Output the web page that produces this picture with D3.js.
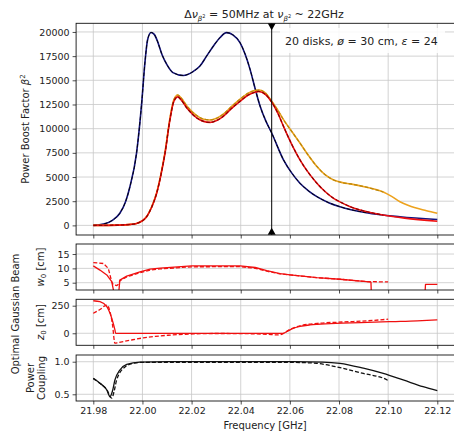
<!DOCTYPE html>
<html>
<head>
<meta charset="utf-8">
<script src="https://cdn.jsdelivr.net/npm/d3@7"></script>
<style>
  body { margin: 0; background: #fff; }
  text { font-family: "DejaVu Sans", sans-serif; fill: #222; }
</style>
</head>
<body>
<div id="chart"></div>
<script>
// chart size
var w = 454;
var h = 432;

// ---- data: [frequency GHz, value] ----
var boostNavy = [[21.98,0],[21.9841,130],[21.9876,500],[21.9908,1250],[21.9932,2500],[21.9949,4000],
  [21.9976,7480],[21.9997,12670],[22.0010,16800],[22.0021,19200],[22.0035,19950],[22.0048,19750],
  [22.0061,19050],[22.0079,17700],[22.0099,16650],[22.0124,15800],[22.0166,15500],[22.0206,15900],
  [22.0234,16470],[22.0261,17500],[22.0289,18550],[22.0317,19450],[22.0342,19930],[22.0368,19700],
  [22.0397,18900],[22.0418,17700],[22.0438,16130],[22.0458,14200],[22.0479,12320],[22.0502,10800],
  [22.0526,9550],[22.0574,6780],[22.0608,5400],[22.0641,4360],[22.0677,3550],[22.0710,2970],
  [22.0758,2350],[22.0804,1930],[22.0912,1310],[22.1048,890],[22.12,600]];
var boostRed = [[21.98,0],[21.9901,30],[21.9952,100],[21.9976,200],[22.0017,900],[22.0038,1900],
  [22.0058,3320],[22.0076,5300],[22.0092,7480],[22.0112,10930],[22.0128,12830],[22.0144,13290],
  [22.0155,13050],[22.0185,12000],[22.0221,11110],[22.0246,10780],[22.0275,10650],[22.0302,10850],
  [22.0329,11280],[22.0363,12100],[22.0397,12830],[22.0429,13450],[22.0458,13770],[22.0474,13850],
  [22.0500,13550],[22.0526,12750],[22.0551,11600],[22.0574,10240],[22.0611,8200],[22.0641,6780],
  [22.0677,5400],[22.0710,4360],[22.0743,3500],[22.0778,2800],[22.0814,2300],[22.0846,1930],
  [22.0915,1400],[22.0980,1070],[22.1067,750],[22.12,430]];
var boostOrange = [[21.98,0],[21.9901,30],[21.9952,100],[21.9976,200],[22.0017,900],[22.0038,1950],
  [22.0058,3400],[22.0076,5400],[22.0092,7600],[22.0112,11100],[22.0128,13000],[22.0144,13480],
  [22.0155,13250],[22.0185,12200],[22.0221,11350],[22.0246,11000],[22.0275,10900],[22.0302,11080],
  [22.0329,11500],[22.0363,12300],[22.0397,13050],[22.0429,13650],[22.0458,13950],[22.0476,14000],
  [22.0500,13700],[22.0526,12830],[22.0551,11900],[22.0574,10930],[22.0608,9700],[22.0641,8510],
  [22.0675,7250],[22.0710,6090],[22.0743,5250],[22.0778,4700],[22.0814,4420],[22.0846,4290],
  [22.0912,3950],[22.0980,3450],[22.1014,3000],[22.1048,2450],[22.1083,2050],[22.1156,1520],[22.12,1250]];

var w0Solid = [[21.98,10.85],[21.9827,9.4],[21.9855,7.7],[21.9875,5.35],[21.9883,2.0],[21.9885,0],
  [21.9902,0],[21.9904,2.0],[21.9908,5.9],[21.9936,7.3],[21.9990,8.8],[22.0031,9.7],[22.0072,10.1],
  [22.0200,10.85],[22.0397,10.85],[22.0459,10.3],[22.0506,9.2],[22.0560,8.2],[22.0601,7.7],
  [22.0710,6.75],[22.0804,6.2],[22.0912,5.35],[22.0930,5.2],[22.0932,0],[22.1149,0],[22.1152,4.4],[22.12,4.4]];
var w0Dashed = [[21.98,12.0],[21.9841,11.7],[21.9861,10.0],[21.9875,5.35],[21.9881,4.3],[21.9896,4.0],
  [21.9904,4.6],[21.9908,5.7],[21.9936,7.0],[21.9990,8.5],[22.0031,9.4],[22.0072,9.8],[22.0200,10.55],
  [22.0397,10.6],[22.0459,10.0],[22.0506,9.0],[22.0560,8.1],[22.0601,7.7],[22.0710,6.75],[22.0804,6.2],
  [22.0912,5.4],[22.10,5.25]];

var z0Solid = [[21.98,295],[21.9827,286],[21.9855,241],[21.9875,136],[21.9888,30],[21.9891,0],
  [22.0571,0],[22.0591,20],[22.0611,42],[22.0641,62],[22.0682,76],[22.0712,82],[22.0814,92],[22.0915,99],
  [22.1017,106],[22.1118,113],[22.12,122]];
var z0Dashed = [[21.98,181],[21.9827,215],[21.9855,256],[21.9868,196],[21.9878,80],[21.9888,-90],
  [21.9901,-84],[21.9952,-62],[22.0003,-42],[22.0053,-28],[22.0104,-18],[22.0206,-6],[22.0307,-2],
  [22.0408,-3],[22.0510,-10],[22.0550,-15],[22.0571,-5],[22.0601,36],[22.0641,68],[22.0712,90],
  [22.0814,102],[22.0915,113],[22.10,128]];

var couplingSolid = [[21.98,0.745],[21.9827,0.67],[21.9855,0.566],[21.9868,0.463],[21.9878,0.55],
  [21.9888,0.72],[21.9908,0.873],[21.9936,0.96],[21.9990,0.995],[22.0104,1.0],[22.0611,1.0],[22.0733,0.995],
  [22.0804,0.975],[22.0899,0.9],[22.0980,0.82],[22.1061,0.72],[22.1142,0.617],[22.12,0.555]];
var couplingDashed = [[21.98,0.74],[21.9827,0.67],[21.9855,0.57],[21.9875,0.44],[21.9885,0.55],
  [21.9895,0.72],[21.9929,0.92],[21.9962,0.975],[22.0003,0.99],[22.0611,0.99],[22.0662,0.985],[22.0710,0.975],
  [22.0791,0.92],[22.0899,0.82],[22.0996,0.72],[22.10,0.70]];

var markerFreq = 22.0526;
var xTicks = [21.98, 22.00, 22.02, 22.04, 22.06, 22.08, 22.10, 22.12];
var boostTicks = [0, 2500, 5000, 7500, 10000, 12500, 15000, 17500, 20000];
var w0Ticks = [5, 10, 15];
var z0Ticks = [0, 250];
var couplingTicks = [0.5, 1.0];

// ---- scales ----
var xScale = d3.scaleLinear().domain([21.973, 22.127]).range([76.1, 454.5]);

var panels = [
  {id: "boost", top: 23.3, bottom: 235, domain: [-995, 20895], ticks: boostTicks, fmt: d3.format("d")},
  {id: "w0", top: 244, bottom: 290, domain: [2.45, 18.5], ticks: w0Ticks, fmt: d3.format("d")},
  {id: "z0", top: 299.3, bottom: 345.3, domain: [-109, 308], ticks: z0Ticks, fmt: d3.format("d")},
  {id: "coup", top: 355, bottom: 401, domain: [0.397, 1.103], ticks: couplingTicks, fmt: d3.format(".1f")}
];

var svg = d3.select("#chart").append("svg")
  .attr("width", w).attr("height", h);

var x0 = xScale.range()[0], x1 = xScale.range()[1];

panels.forEach(function(p, i) {
  p.y = d3.scaleLinear().domain(p.domain).range([p.bottom, p.top]);
  var g = svg.append("g");

  svg.append("clipPath").attr("id", "clip-" + p.id)
    .append("rect").attr("x", x0).attr("y", p.top)
    .attr("width", x1 - x0).attr("height", p.bottom - p.top);

  // grid
  g.selectAll(".vg").data(xTicks).enter().append("line")
    .attr("x1", function(d){ return xScale(d); }).attr("x2", function(d){ return xScale(d); })
    .attr("y1", p.top).attr("y2", p.bottom)
    .attr("stroke", "#c8c8c8").attr("stroke-width", 0.8);
  g.selectAll(".hg").data(p.ticks).enter().append("line")
    .attr("x1", x0).attr("x2", x1)
    .attr("y1", function(d){ return p.y(d); }).attr("y2", function(d){ return p.y(d); })
    .attr("stroke", "#c8c8c8").attr("stroke-width", 0.8);

  // y axis
  var yAxis = d3.axisLeft(p.y).tickValues(p.ticks).tickFormat(p.fmt).tickSize(3.5).tickPadding(3);
  var ya = svg.append("g").attr("transform", "translate(" + x0 + ",0)").call(yAxis);
  ya.select(".domain").remove();
  ya.selectAll("text").style("font-size", "9.5px").attr("fill", "#222");
  ya.selectAll("line").attr("stroke", "#222").attr("stroke-width", 0.8);

  // x axis
  var xAxis = d3.axisBottom(xScale).tickValues(xTicks).tickFormat(d3.format(".2f")).tickSize(3.5).tickPadding(3);
  var xa = svg.append("g").attr("transform", "translate(0," + p.bottom + ")").call(xAxis);
  xa.select(".domain").remove();
  xa.selectAll("line").attr("stroke", "#222").attr("stroke-width", 0.8);
  if (i < panels.length - 1) {
    xa.selectAll("text").remove();
  } else {
    xa.selectAll("text").style("font-size", "9.5px").attr("fill", "#222");
  }
});

function drawLine(p, data, color, width, dash, curve) {
  var line = d3.line()
    .x(function(d){ return xScale(d[0]); })
    .y(function(d){ return p.y(d[1]); })
    .curve(curve || d3.curveLinear);
  var path = svg.append("path")
    .datum(data)
    .attr("clip-path", "url(#clip-" + p.id + ")")
    .attr("d", line)
    .attr("fill", "none")
    .attr("stroke", color)
    .attr("stroke-width", width)
    .attr("stroke-linejoin", "round");
  if (dash) path.attr("stroke-dasharray", dash);
  return path;
}

var smooth = d3.curveMonotoneX;
var pb = panels[0];
var upTo = function(arr, f) { return arr.filter(function(d){ return d[0] <= f + 1e-9; }); };

drawLine(pb, boostNavy, "#12127e", 1.6, null, smooth);
drawLine(pb, upTo(boostNavy, 22.10), "#000", 0.9, "3.5,2", smooth);
drawLine(pb, boostOrange, "#eda21e", 1.6, null, smooth);
drawLine(pb, upTo(boostOrange, 22.10), "#b8860b", 1.2, "3.5,2", smooth);
drawLine(pb, boostRed, "#f01010", 1.6, null, smooth);
drawLine(pb, upTo(boostRed, 22.10), "#8b0000", 1.2, "3.5,2", smooth);

drawLine(panels[1], w0Solid, "#f01010", 1.3);
drawLine(panels[1], w0Dashed, "#f01010", 1.3, "4,2");
drawLine(panels[2], z0Solid, "#f01010", 1.3, null, smooth);
drawLine(panels[2], z0Dashed, "#f01010", 1.3, "4,2", smooth);
drawLine(panels[3], couplingSolid, "#111", 1.3, null, smooth);
drawLine(panels[3], couplingDashed, "#111", 1.3, "4,2", smooth);

// vertical marker line with triangles
var mx = xScale(markerFreq);
svg.append("line")
  .attr("x1", mx).attr("x2", mx).attr("y1", pb.top).attr("y2", pb.bottom)
  .attr("stroke", "#000").attr("stroke-width", 1);
var tri = d3.symbol().type(d3.symbolTriangle).size(28);
svg.append("path").attr("d", tri())
  .attr("transform", "translate(" + mx + "," + (pb.top + 2.3) + ") rotate(180)").attr("fill", "#000");
svg.append("path").attr("d", tri())
  .attr("transform", "translate(" + mx + "," + (pb.bottom - 2.6) + ")").attr("fill", "#000");

// annotation box
svg.append("rect").attr("x", 280).attr("y", 28).attr("width", 165).attr("height", 25)
  .attr("fill", "#fff").attr("fill-opacity", 0.85);
var note = svg.append("text").attr("x", 285).attr("y", 44.5).style("font-size", "11px");
note.append("tspan").text("20 disks, ");
note.append("tspan").style("font-style", "italic").text("ø");
note.append("tspan").text(" = 30 cm, ");
note.append("tspan").style("font-style", "italic").text("ε");
note.append("tspan").text(" = 24");

// frames (drawn last so they sit above lines)
panels.forEach(function(p) {
  svg.append("rect").attr("x", x0).attr("y", p.top)
    .attr("width", x1 - x0).attr("height", p.bottom - p.top)
    .attr("fill", "none").attr("stroke", "#111").attr("stroke-width", 0.9);
});

// title
var title = svg.append("text").attr("x", 264).attr("y", 18).attr("text-anchor", "middle")
  .style("font-size", "11px");
title.append("tspan").text("Δ");
title.append("tspan").style("font-style", "italic").text("ν");
title.append("tspan").attr("dy", 2.5).style("font-size", "7px").style("font-style", "italic").text("β");
title.append("tspan").attr("dy", -3).style("font-size", "5px").text("2");
title.append("tspan").attr("dy", 0.5).text(" = 50MHz at ");
title.append("tspan").style("font-style", "italic").text("ν");
title.append("tspan").attr("dy", 2.5).style("font-size", "7px").style("font-style", "italic").text("β");
title.append("tspan").attr("dy", -3).style("font-size", "5px").text("2");
title.append("tspan").attr("dy", 0.5).text(" ~ 22GHz");

// axis labels
function yLabel(xp, yp) {
  return svg.append("text").attr("text-anchor", "middle")
    .attr("transform", "translate(" + xp + "," + yp + ") rotate(-90)")
    .style("font-size", "10px");
}
var lb = yLabel(29, 129);
lb.append("tspan").text("Power Boost Factor ");
lb.append("tspan").style("font-style", "italic").text("β");
lb.append("tspan").attr("dy", -4).style("font-size", "7px").text("2");

var lw = yLabel(44, 267);
lw.append("tspan").style("font-style", "italic").text("w");
lw.append("tspan").attr("dy", 2).style("font-size", "7px").text("0");
lw.append("tspan").attr("dy", -2).text(" [cm]");

var lz = yLabel(44, 322);
lz.append("tspan").style("font-style", "italic").text("z");
lz.append("tspan").attr("dy", 2).style("font-size", "7px").text("0");
lz.append("tspan").attr("dy", -2).text(" [cm]");

yLabel(34, 378).text("Power");
yLabel(45, 378).text("Coupling");
yLabel(19, 314).text("Optimal Gaussian Beam");

svg.append("text").attr("x", 265).attr("y", 429).attr("text-anchor", "middle")
  .style("font-size", "10px").text("Frequency [GHz]");
</script>
</body>
</html>
